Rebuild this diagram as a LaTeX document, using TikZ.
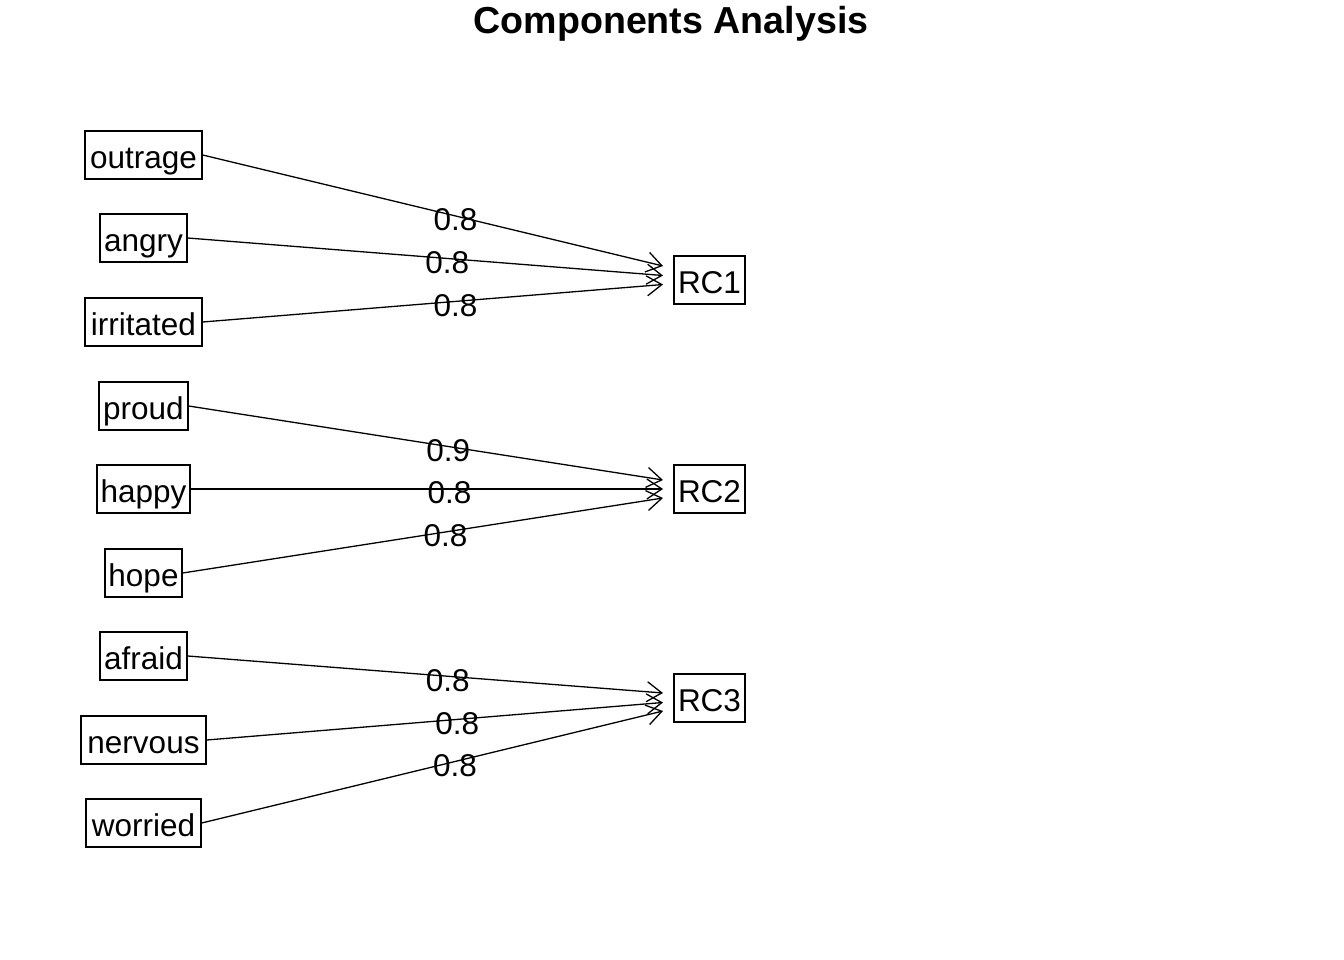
\documentclass[tikz,border=0pt]{standalone}
\usepackage{fontspec}
\setmainfont{Liberation Sans}
\usetikzlibrary{arrows.meta}
\begin{document}
\begin{tikzpicture}[x=1pt,y=-1pt,
  var/.style={draw,line width=1.4pt,minimum height=48pt,inner sep=0pt,text height=26.5pt,text depth=0pt,font=\fontsize{31.5}{31.5}\selectfont},
  edge/.style={line width=1.3pt,-{Straight Barb[length=15pt,width=20pt,line width=1.3pt]}},
  lab/.style={font=\fontsize{31.5}{31.5}\selectfont,inner sep=0pt,text height=29.6pt,text depth=0pt},
  ttl/.style={font=\fontsize{37.6}{38}\selectfont\bfseries,inner sep=0pt}]
\useasboundingbox (0,0) rectangle (1344,960);
\node[ttl] (title) at (671,24) {Components Analysis};
% variables
\node[var,minimum width=117pt] (outrage) at (143.5,155) {outrage};
\node[var,minimum width=87pt] (angry) at (143.5,238) {angry};
\node[var,minimum width=117pt] (irritated) at (143.5,322) {irritated};
\node[var,minimum width=89pt] (proud) at (143.5,406) {proud};
\node[var,minimum width=93pt] (happy) at (143.5,489) {happy};
\node[var,minimum width=77pt] (hope) at (143.5,573) {hope};
\node[var,minimum width=87pt] (afraid) at (143.5,656) {afraid};
\node[var,minimum width=125pt] (nervous) at (143.5,740) {nervous};
\node[var,minimum width=115pt] (worried) at (143.5,823) {worried};
% components
\node[var,minimum width=71pt] (RC1) at (709.5,280) {RC1};
\node[var,minimum width=71pt] (RC2) at (709.5,489) {RC2};
\node[var,minimum width=71pt] (RC3) at (709.5,698) {RC3};
% arrow end points
\coordinate (e11) at (663,266);
\coordinate (e12) at (663,275.5);
\coordinate (e13) at (663,284.5);
\coordinate (e21) at (663,480);
\coordinate (e22) at (663,489);
\coordinate (e23) at (663,498);
\coordinate (e31) at (663,693);
\coordinate (e32) at (663,702.5);
\coordinate (e33) at (663,711);
% edges
\draw[edge] (outrage.east) -- node[lab,pos=0.549] {0.8} (e11);
\draw[edge] (angry.east) -- node[lab,pos=0.546] {0.8} (e12);
\draw[edge] (irritated.east) -- node[lab,pos=0.549] {0.8} (e13);
\draw[edge] (proud.east) -- node[lab,pos=0.547] {0.9} (e21);
\draw[edge] (happy.east) -- node[lab,pos=0.548] {0.8} (e22);
\draw[edge] (hope.east) -- node[lab,pos=0.547] {0.8} (e23);
\draw[edge] (afraid.east) -- node[lab,pos=0.547] {0.8} (e31);
\draw[edge] (nervous.east) -- node[lab,pos=0.549] {0.8} (e32);
\draw[edge] (worried.east) -- node[lab,pos=0.549] {0.8} (e33);
\end{tikzpicture}
\end{document}
